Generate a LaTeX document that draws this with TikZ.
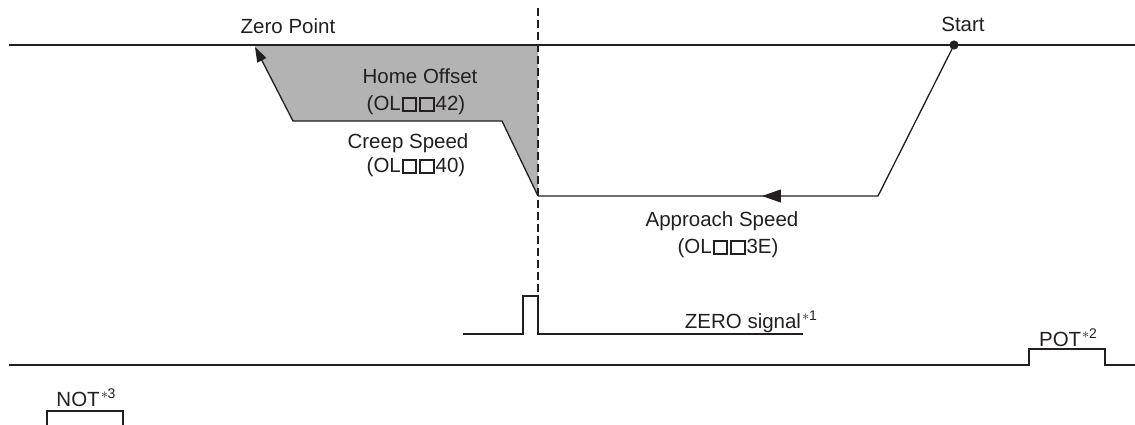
\documentclass[tikz,border=0pt]{standalone}
\usepackage{fontspec}
\setmainfont{Liberation Sans}
\usetikzlibrary{arrows.meta,decorations.markings}
\definecolor{ink}{HTML}{231F20}
\definecolor{hofill}{HTML}{B3B3B3}
\newcommand{\sqbx}{\kern0.05em{\fboxsep=0pt\fboxrule=0.095em\fbox{\rule{0pt}{0.56em}\rule{0.56em}{0pt}}}\kern0.05em}
\newcommand{\supnote}[1]{\kern0.05em\raisebox{0.38em}{\fontsize{14}{14}\selectfont$\ast$\kern-0.02em#1}}
\begin{document}
\begin{tikzpicture}[x=1pt,y=-1pt,
  lbl/.style={font=\fontsize{20.5}{24}\selectfont, text=ink, inner sep=0pt, anchor=base},
  wire/.style={draw=ink, line width=1.3pt},
  sig/.style={draw=ink, line width=1.2pt},
  guide/.style={draw=ink, line width=1.1pt, dash pattern=on 8pt off 4pt},
  back/.style={draw=ink, line width=1.2pt},
  tipA/.style={-{Triangle[length=15pt,width=10pt]}},
  midarrow/.style={postaction={decorate},decoration={markings,
     mark=at position #1 with {\arrow{Triangle[length=19pt,width=13pt]}}}}
]
\useasboundingbox (0,0) rectangle (1135,424);

% coordinates
\coordinate (topL) at (9,45);
\coordinate (topR) at (1135,45);
\coordinate (zp) at (255,47);
\coordinate (zpl) at (255,45);
\coordinate (dtop) at (538,8);
\coordinate (dline) at (538,45);
\coordinate (creepL) at (293,121);
\coordinate (creepR) at (502,121);
\coordinate (appL) at (538,196);
\coordinate (appR) at (878,196);
\coordinate (start) at (954,45);

% shaded home offset area
\fill[fill=hofill] (zpl) -- (dline) -- (appL) -- (creepR) -- (creepL) -- (zp) -- cycle;

% top axis
\draw[back] (topL) -- (topR);

% speed profile
\draw[wire, midarrow=0.56] (start) -- (appR) -- (appL);
\draw[wire, tipA] (appL) -- (creepR) -- (creepL) -- (zp);
\fill[ink] (start) circle (4.6pt);

% ZERO signal
\coordinate (z0) at (463,334);
\coordinate (z1) at (523,334);
\coordinate (z2) at (523,296);
\coordinate (z3) at (538,296);
\coordinate (z4) at (538,334);
\coordinate (z5) at (803,334);
\draw[sig] (z0) -- (z1) -- (z2) -- (z3) -- (z4) -- (z5);

% dashed guide
\draw[guide] (dtop) -- (z3);

% POT line
\coordinate (p0) at (9,365);
\coordinate (p1) at (1029,365);
\coordinate (p2) at (1029,349);
\coordinate (p3) at (1105,349);
\coordinate (p4) at (1105,365);
\coordinate (p5) at (1135,365);
\draw[sig] (p0) -- (p1) -- (p2) -- (p3) -- (p4) -- (p5);

% NOT line
\coordinate (n0) at (47,426);
\coordinate (n1) at (47,411);
\coordinate (n2) at (123,411);
\coordinate (n3) at (123,426);
\draw[sig] (n0) -- (n1) -- (n2) -- (n3);

% labels
\node[lbl] (lzero) at (288,33) {Zero Point};
\node[lbl] (lstart) at (963,31) {Start};
\node[lbl] (lhome) at (420,83) {Home Offset};
\node[lbl] (lhomep) at (416,110) {(OL\sqbx\sqbx42)};
\node[lbl] (lcreep) at (408,148) {Creep Speed};
\node[lbl] (lcreepp) at (416,172) {(OL\sqbx\sqbx40)};
\node[lbl] (lapp) at (722,226) {Approach Speed};
\node[lbl] (lappp) at (728,253) {(OL\sqbx\sqbx3E)};
\node[lbl, anchor=base east] (lzsig) at (817,328) {ZERO signal\supnote{1}};
\node[lbl] (lpot) at (1068,346) {POT\supnote{2}};
\node[lbl] (lnot) at (86,406) {NOT\supnote{3}};
\end{tikzpicture}
\end{document}
